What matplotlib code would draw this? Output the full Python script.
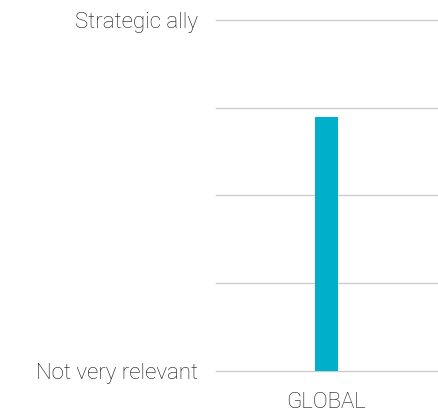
import matplotlib
matplotlib.use("Agg")
import matplotlib.pyplot as plt

categories = ["GLOBAL"]
values = [3.9]
scale_ticks = [1, 2, 3, 4, 5]
scale_labels = ["Not very relevant", "", "", "", "Strategic ally"]

plt.rcParams['font.family'] = ['Roboto', 'DejaVu Sans']

fig = plt.figure(figsize=(4.39, 4.13), dpi=100)
ax = fig.add_axes([0.492, 0.1017, 0.503, 0.8499])

ax.bar(range(len(categories)), values, width=0.104, bottom=0,
       color="#00b0c9", zorder=3)
ax.set_xlim(-0.5, 0.5)
ax.set_ylim(1, 5)
ax.set_yticks(scale_ticks)
ax.set_yticklabels(scale_labels, fontsize=16, color="#161616",
                   fontweight="light")
ax.set_xticks(range(len(categories)))
ax.set_xticklabels(categories, fontsize=16, color="#161616",
                   fontweight="light")
ax.grid(axis="y", color="#cccccc", linewidth=1, zorder=0)
for gl in ax.yaxis.get_gridlines():
    gl.set_clip_on(False)
ax.tick_params(axis="both", length=0)
ax.tick_params(axis="y", pad=13)
ax.tick_params(axis="x", pad=15)
for s in ax.spines.values():
    s.set_visible(False)

fig.savefig("out.png", dpi=100, facecolor="white")
